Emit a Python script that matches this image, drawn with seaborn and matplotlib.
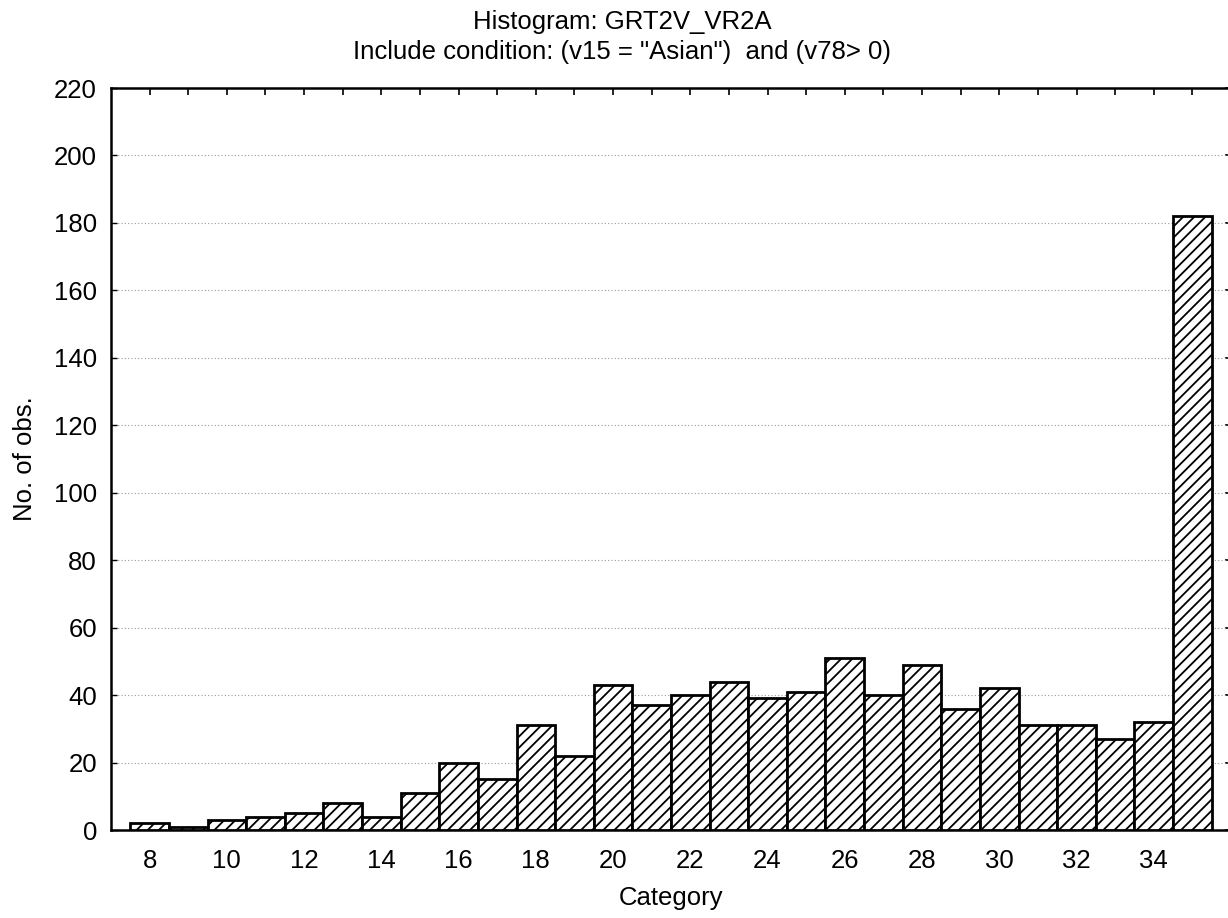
import matplotlib
matplotlib.use("Agg")
import matplotlib.pyplot as plt
import seaborn as sns
import numpy as np

categories = [8, 9, 10, 11, 12, 13, 14, 15, 16, 17, 18, 19, 20, 21, 22, 23, 24,
              25, 26, 27, 28, 29, 30, 31, 32, 33, 34, 35]
counts = [2, 1, 3, 4, 5, 8, 4, 11, 20, 15, 31, 22, 43, 37, 40, 44, 39,
          41, 51, 40, 49, 36, 42, 31, 31, 27, 32, 182]
xtick_labels = [8, 10, 12, 14, 16, 18, 20, 22, 24, 26, 28, 30, 32, 34]
ytick_values = list(range(0, 221, 20))

title_line1 = "Histogram: GRT2V_VR2A"
title_line2 = 'Include condition: (v15 = "Asian")  and (v78> 0)'
x_label = "Category"
y_label = "No. of obs."

sns.set_style("white")
plt.rcParams['font.family'] = ['Liberation Sans', 'DejaVu Sans']
plt.rcParams['hatch.linewidth'] = 1.3
plt.rcParams['hatch.color'] = 'black'
plt.rcParams['text.color'] = 'black'
plt.rcParams['axes.labelcolor'] = 'black'
plt.rcParams['xtick.color'] = 'black'
plt.rcParams['ytick.color'] = 'black'

FS = 18.5
W, H = 1228, 918
fig = plt.figure(figsize=(W / 100, H / 100), dpi=100)
ax = fig.add_axes([111 / W, (H - 830) / H, (1231 - 111) / W, (830 - 88) / H])

sns.histplot(x=categories, weights=counts, discrete=True, shrink=1, ax=ax,
             color='white', edgecolor='black', linewidth=2.0, alpha=1)
for p in ax.patches:
    p.set_hatch('///')
    p.set_facecolor('white')
    p.set_edgecolor('black')
    p.set_zorder(3)

ax.set_xlim(7, 36)
ax.set_ylim(0, 220)
ax.set_yticks(ytick_values)
ax.set_yticklabels([str(v) for v in ytick_values], fontsize=FS, color='black')
ax.set_xticks(xtick_labels)
ax.set_xticklabels([str(v) for v in xtick_labels], fontsize=FS, color='black')
ax.set_xticks(categories, minor=True)

ax.grid(axis='y', color='#9a9a9a', linestyle=(0, (1, 2)), linewidth=0.8, zorder=0)
ax.set_axisbelow(True)

ax.tick_params(axis='x', which='both', direction='in', length=3, width=1,
               pad=14, bottom=True, top=False, color='black')
ax.tick_params(axis='y', which='major', direction='in', length=4, width=1,
               pad=10, left=True, right=False, color='black')

for s in ['left', 'top', 'bottom']:
    ax.spines[s].set_visible(True)
    ax.spines[s].set_color('black')
    ax.spines[s].set_linewidth(1.8)
ax.spines['right'].set_visible(False)

top = ax.secondary_xaxis('top')
top.set_xticks(categories)
top.tick_params(direction='in', length=5, width=1.2, labeltop=False, color='black')
top.spines['top'].set_visible(False)
right = ax.secondary_yaxis('right')
right.set_yticks(ytick_values)
right.tick_params(direction='in', length=4, width=1.2, labelright=False, color='black')

ax.set_xlabel(x_label, fontsize=FS, labelpad=9, color='black')
ax.set_ylabel(y_label, fontsize=FS, labelpad=12, color='black')

fig.text(622 / W, 1 - 22 / H, title_line1, ha='center', va='center', fontsize=FS, color='black')
fig.text(622 / W, 1 - 52 / H, title_line2, ha='center', va='center', fontsize=FS, color='black')

fig.savefig("out.png", dpi=100)
